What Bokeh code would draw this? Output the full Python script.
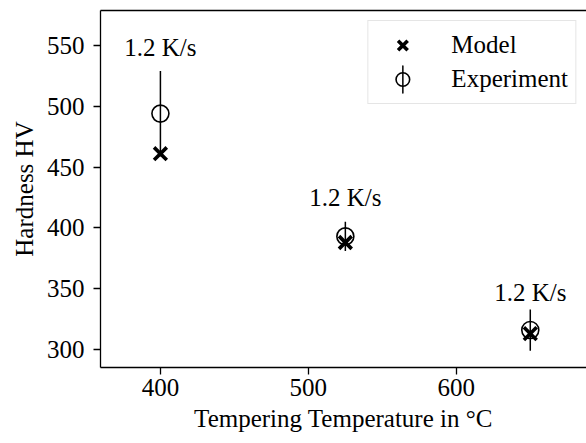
from bokeh.plotting import figure
from bokeh.models import (ColumnDataSource, Range1d, Legend, LegendItem,
                          FixedTicker, LinearAxis)
from bokeh.core.properties import value
from bokeh.embed import file_html
from bokeh.resources import INLINE

# ---- data ----
temperatures = [400, 525, 650]
model_hv = [461, 388, 313]
experiment_hv = [494, 393, 316]
experiment_err = [35, 12, 17]
rate_labels = ["1.2 K/s", "1.2 K/s", "1.2 K/s"]
label_y = [548, 425, 347]

FONT = "Liberation Serif"
FS = "25px"

src = ColumnDataSource(dict(
    t=temperatures, model=model_hv, exp=experiment_hv,
    lo=[e - d for e, d in zip(experiment_hv, experiment_err)],
    hi=[e + d for e, d in zip(experiment_hv, experiment_err)],
    lab=rate_labels, ly=label_y,
))

p = figure(width=586, height=443, output_backend="svg", toolbar_location=None,
           x_range=Range1d(359.5, 688), y_range=Range1d(285.2, 578.8),
           min_border_left=100, min_border_right=0, min_border_top=10,
           min_border_bottom=76)
p.xgrid.visible = False
p.ygrid.visible = False
p.outline_line_color = None
p.background_fill_color = "white"
p.border_fill_color = "white"

for ax in (p.xaxis[0], p.yaxis[0]):
    ax.axis_line_color = "black"
    ax.axis_line_width = 1.3
    ax.major_tick_line_width = 1.3
    ax.major_tick_out = 7
    ax.major_tick_in = 0
    ax.minor_tick_line_color = None
    ax.major_label_text_font = FONT
    ax.major_label_text_font_size = FS
    ax.major_label_text_color = "black"
    ax.axis_label_text_font = FONT
    ax.axis_label_text_font_size = FS
    ax.axis_label_text_font_style = "normal"
    ax.axis_label_text_color = "black"
p.xaxis.major_label_standoff = 4
p.yaxis.major_label_standoff = 9
p.xaxis.ticker = FixedTicker(ticks=[400, 500, 600])
p.yaxis.ticker = FixedTicker(ticks=[300, 350, 400, 450, 500, 550])
p.xaxis.axis_label = "Tempering Temperature in °C"
p.xaxis.axis_label_standoff = 6
p.yaxis.axis_label = "Hardness HV"
p.yaxis.axis_label_standoff = 6

top = LinearAxis(ticker=FixedTicker(ticks=[]), major_label_text_font_size="0px",
                 axis_line_color="black", axis_line_width=1.3,
                 major_tick_line_color=None, minor_tick_line_color=None)
p.add_layout(top, "above")

# error bars
p.segment(x0="t", y0="lo", x1="t", y1="hi", source=src, line_color="black",
          line_width=1.5)
r_model = p.scatter(x="t", y="model", source=src, marker="x", size=18,
                    line_color="black", line_width=3.6)
r_exp = p.scatter(x="t", y="exp", source=src, marker="circle", size=17,
                  line_color="black", line_width=1.6, fill_color=None)
# legend helper: thin vertical ellipse renders as the error-bar stroke in the legend
r_bar = p.ellipse(x=[float("nan")], y=[float("nan")], width=0.01, height=20,
                  width_units="screen", height_units="screen",
                  line_color="black", line_width=1.5, fill_color=None)

p.text(x="t", y="ly", text="lab", source=src, text_align="center",
       text_baseline="middle", text_font=value(FONT), text_font_size=FS,
       text_color="black")

legend = Legend(items=[LegendItem(label="Model", renderers=[r_model]),
                       LegendItem(label="Experiment", renderers=[r_exp, r_bar])],
                location="top_right")
legend.label_text_font = FONT
legend.label_text_font_size = FS
legend.label_text_color = "black"
legend.glyph_width = 54
legend.glyph_height = 34
legend.label_height = 34
legend.label_standoff = 22
legend.padding = 7
legend.spacing = 0
legend.margin = 10
legend.border_line_color = "#cccccc"
legend.border_line_width = 1.2
legend.background_fill_alpha = 0.8
p.add_layout(legend, "center")

open("out.html", "w").write(file_html(p, INLINE))
